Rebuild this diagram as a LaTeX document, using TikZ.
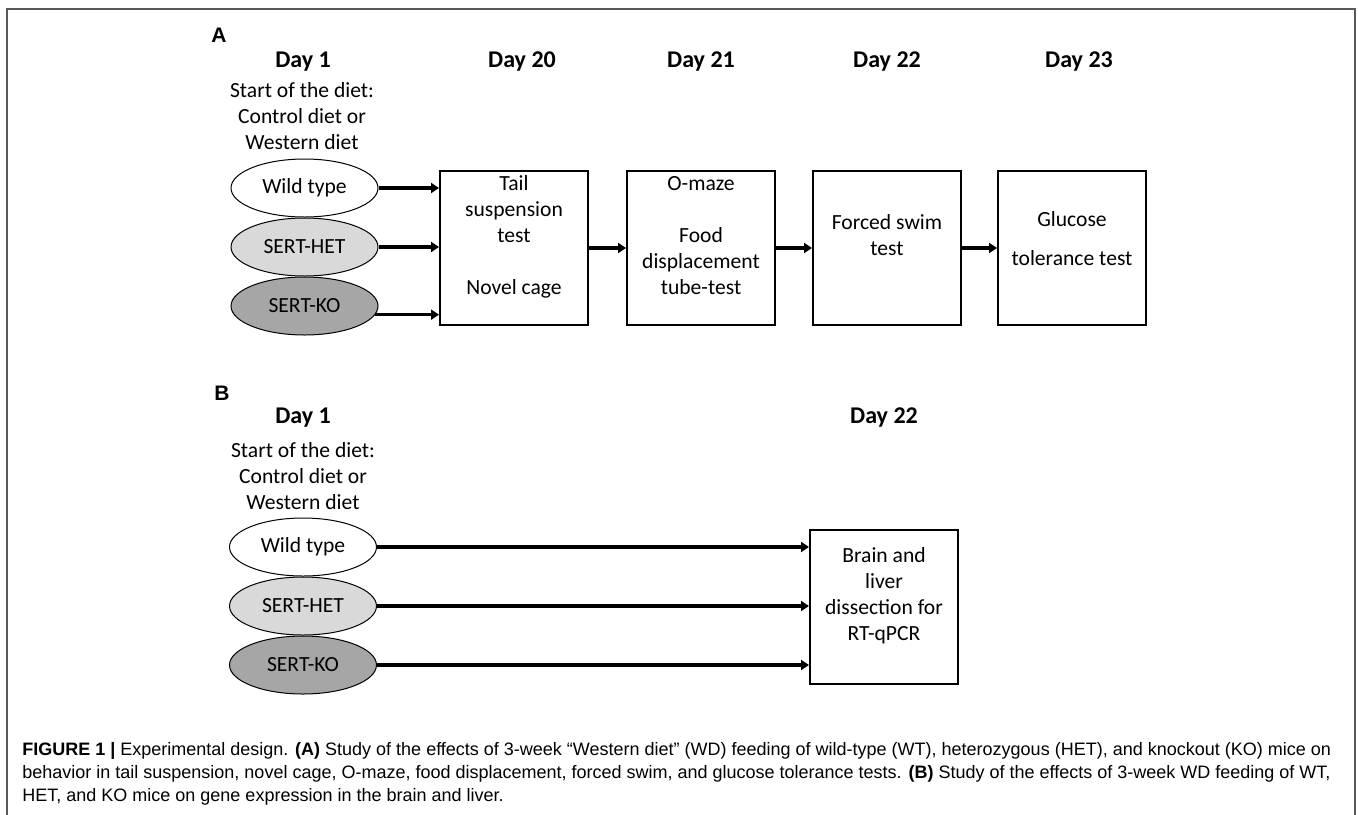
\documentclass[tikz,border=0pt]{standalone}
\usepackage{fontspec}
\setmainfont{Carlito}
\newfontfamily\capfont{Liberation Sans}
\usetikzlibrary{positioning,arrows.meta,shapes.geometric}

\tikzset{
  daylabel/.style={font=\bfseries\fontsize{12}{14}\selectfont},
  bodytext/.style={font=\fontsize{10.8}{13}\selectfont, align=center},
  panel/.style={font=\capfont\bfseries\fontsize{10.5}{12}\selectfont},
  mouse/.style={ellipse, draw, line width=0.5pt, minimum width=73.5pt,
    minimum height=29pt, inner sep=0pt, font=\fontsize{10.8}{13}\selectfont},
  wt/.style={mouse, fill=white},
  het/.style={mouse, fill=black!15},
  ko/.style={mouse, fill=black!35},
  testbox/.style={rectangle, draw, line width=1pt, minimum width=74pt,
    minimum height=77pt, inner sep=0pt, align=center,
    font=\fontsize{10.8}{13}\selectfont},
  flow/.style={line width=1.7pt, -{Triangle[length=4pt,width=5pt]}},
}

\begin{document}
\begin{tikzpicture}[x=0.5pt,y=-0.5pt]
\useasboundingbox (0,0) rectangle (1358,814);
% outer frame
\draw[black!65, line width=1pt] (7,830) -- (7,9) -- (1355,9) -- (1355,830);

% panel A
\node[panel] (labA) at (219,35) {A};
\node[daylabel] (dayA1) at (303,62) {Day 1};
\node[bodytext] (dietA) at (302,116) {Start of the diet:\\Control diet or\\Western diet};
\node[wt] (wtA) at (304.5,188) {Wild type};
\node[het, below=0pt of wtA] (hetA) {SERT-HET};
\node[ko, below=0pt of hetA] (koA) {SERT-KO};

\node[testbox] (tail) at (514,248) {Tail\\suspension\\test\\\mbox{}\\Novel cage\\\mbox{}};
\node[testbox, right=18.5pt of tail] (omaze) {O-maze\\\mbox{}\\Food\\displacement\\tube-test\\\mbox{}};
\node[testbox, right=18pt of omaze] (swim) {Forced swim\\test\\\mbox{}};
\node[testbox, right=17.5pt of swim] (glucose) {Glucose\\[6.5pt]tolerance test\\[-3.5pt]\mbox{}};

\node[daylabel, xshift=4pt] (day20) at (tail |- dayA1) {Day 20};
\node[daylabel] (day21) at (omaze |- dayA1) {Day 21};
\node[daylabel] (day22) at (swim |- dayA1) {Day 22};
\node[daylabel, xshift=3.5pt] (day23) at (glucose |- dayA1) {Day 23};

\draw[flow] (wtA.east) -- (tail.west |- wtA.east);
\draw[flow] (hetA.east) -- (tail.west |- hetA.east);
\draw[flow] (koA.-7) -- (tail.west |- koA.-7);
\draw[flow] (tail.east) -- (omaze.west);
\draw[flow] (omaze.east) -- (swim.west);
\draw[flow] (swim.east) -- (glucose.west);

% panel B
\node[panel] (labB) at (222,393) {B};
\node[daylabel] (dayB1) at (303,418) {Day 1};
\node[bodytext] (dietB) at (303,476) {Start of the diet:\\Control diet or\\Western diet};
\node[wt] (wtB) at (303,547) {Wild type};
\node[het, below=0pt of wtB] (hetB) {SERT-HET};
\node[ko, below=0pt of hetB] (koB) {SERT-KO};

\node[testbox] (brain) at (884,607) {Brain and\\liver\\dissection for\\RT-qPCR\\\mbox{}};
\node[daylabel] (dayB22) at (brain |- dayB1) {Day 22};

\draw[flow] (wtB.east) -- (brain.west |- wtB.east);
\draw[flow] (hetB.east) -- (brain.west |- hetB.east);
\draw[flow] (koB.east) -- (brain.west |- koB.east);

% caption
\node[anchor=north west, align=left, inner sep=0pt,
  font=\capfont\fontsize{9}{11.6}\selectfont] (caption) at (22,742)
  {\textbf{FIGURE 1 |} Experimental design. \textbf{(A)} Study of the effects of 3-week “Western diet” (WD) feeding of wild-type (WT), heterozygous (HET), and knockout (KO) mice on\\
   behavior in tail suspension, novel cage, O-maze, food displacement, forced swim, and glucose tolerance tests. \textbf{(B)} Study of the effects of 3-week WD feeding of WT,\\
   HET, and KO mice on gene expression in the brain and liver.};
\end{tikzpicture}
\end{document}
